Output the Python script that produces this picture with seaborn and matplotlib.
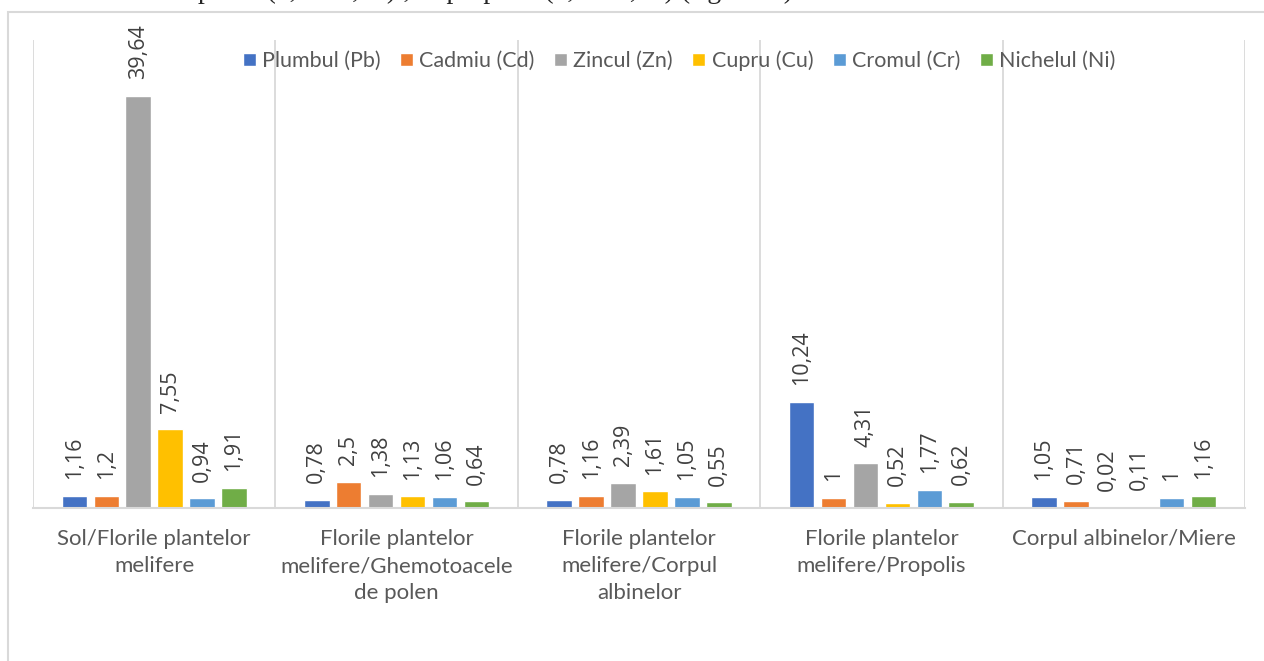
import pandas as pd
import matplotlib.pyplot as plt
import seaborn as sns
from matplotlib.patches import Rectangle

# Data
categories = [
    "Sol/Florile plantelor\nmelifere",
    "Florile plantelor\nmelifere/Ghemotoacele\nde polen",
    "Florile plantelor\nmelifere/Corpul\nalbinelor",
    "Florile plantelor\nmelifere/Propolis",
    "Corpul albinelor/Miere",
]
series = ["Plumbul (Pb)", "Cadmiu (Cd)", "Zincul (Zn)", "Cupru (Cu)", "Cromul (Cr)", "Nichelul (Ni)"]
pb = [1.16, 0.78, 0.78, 10.24, 1.05]
cd = [1.2, 2.5, 1.16, 1, 0.71]
zn = [39.64, 1.38, 2.39, 4.31, 0.02]
cu = [7.55, 1.13, 1.61, 0.52, 0.11]
cr = [0.94, 1.06, 1.05, 1.77, 1]
ni = [1.91, 0.64, 0.55, 0.62, 1.16]
colors = ["#4472C4", "#ED7D31", "#A5A5A5", "#FFC000", "#5B9BD5", "#70AD47"]

# long format table for seaborn
rows = []
for name, vals in zip(series, [pb, cd, zn, cu, cr, ni]):
    for cat, v in zip(categories, vals):
        rows.append({"Categorie": cat, "Element": name, "Valoare": v})
df = pd.DataFrame(rows)

sns.set_style("white")
plt.rcParams["font.family"] = ["Lato", "DejaVu Sans"]

W, H = 1264, 661
fig = plt.figure(figsize=(W / 100, H / 100), dpi=100)
ax = fig.add_axes([33 / W, 1 - 508 / H, (1245 - 33) / W, (508 - 40) / H])

sns.barplot(data=df, x="Categorie", y="Valoare", hue="Element", order=categories,
            hue_order=series, palette=colors, saturation=1, width=0.79, gap=0.2,
            ax=ax, legend=True)

# data labels with comma decimals
for cont, vals in zip(ax.containers, [pb, cd, zn, cu, cr, ni]):
    labels = [f"{v:g}".replace(".", ",") for v in vals]
    ax.bar_label(cont, labels=labels, rotation=90, padding=12, fontsize=15.5,
                 color="#404040", family=["Open Sans", "DejaVu Sans"])

ax.set_ylim(0, 45)
ax.set_xlim(-0.5, 4.5)
ax.set_xlabel("")
ax.set_ylabel("")
ax.set_yticks([])
ax.set_xticks(range(len(categories)))
ax.set_xticklabels(categories, fontsize=16, color="#595959", linespacing=1.45)
ax.tick_params(axis="x", length=0, pad=15)
ax.set_xticks([i - 0.5 for i in range(len(categories) + 1)], minor=True)
ax.tick_params(axis="x", which="minor", length=0)
ax.grid(False)
ax.grid(True, which="minor", axis="x", color="#d9d9d9", linewidth=1.3)
sns.despine(ax=ax, left=True, top=True, right=True)
ax.spines["bottom"].set_color("#d9d9d9")
ax.spines["bottom"].set_linewidth(1.5)

ax.legend(loc="upper left", bbox_to_anchor=(234 / W, 1 - 42 / H),
          bbox_transform=fig.transFigure, ncol=6, frameon=False, fontsize=15.5,
          handlelength=0.6, handleheight=0.6, handletextpad=0.3,
          columnspacing=0.9, labelcolor="#595959", borderaxespad=0)

# chart border and the clipped document line above it
fig.patches.append(Rectangle((8 / W, -0.1), 1.2, 1 - 12 / H + 0.1,
                             transform=fig.transFigure, fill=False,
                             edgecolor="#d9d9d9", linewidth=1.5))
fig.text(198 / W, 1 + 2 / H, "polen (0,55–1,30) ; în propolis (0,52–4,31) (fig. 3.12)",
         family=["Liberation Serif", "DejaVu Serif"], fontsize=20, va="baseline",
         ha="left")

fig.savefig("out.png", dpi=100)
